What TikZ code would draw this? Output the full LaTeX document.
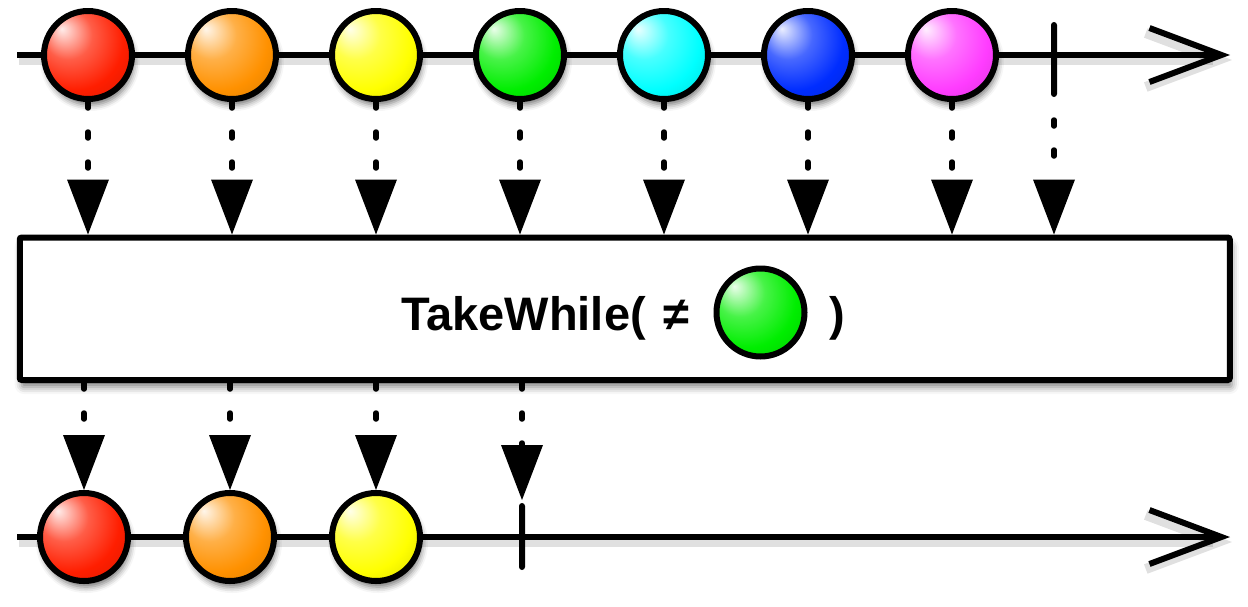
\documentclass[tikz,border=0pt]{standalone}
\usepackage{fontspec}
\setmainfont{Liberation Sans}
\usetikzlibrary{arrows.meta}
\usetikzlibrary{shadows.blur}

\definecolor{ballred}{RGB}{255,30,0}
\definecolor{ballorange}{RGB}{255,145,0}
\definecolor{ballyellow}{RGB}{255,255,0}
\definecolor{ballgreen}{RGB}{0,238,0}
\definecolor{ballcyan}{RGB}{0,255,255}
\definecolor{ballblue}{RGB}{0,45,255}
\definecolor{ballmagenta}{RGB}{255,60,255}
\colorlet{marblecol}{ballred}

\pgfdeclareradialshading[marblecol]{marble}{\pgfpoint{-15bp}{15bp}}{%
  color(0bp)=(marblecol!8!white); color(14bp)=(marblecol!72!white);
  color(28bp)=(marblecol); color(42bp)=(marblecol!85!black);
  color(60bp)=(marblecol!45!black)}

\tikzset{
  marble/.style={circle, draw, line width=6pt, minimum size=88pt, inner sep=0pt,
    shading=marble},
  item/.style={marble, blur shadow={shadow xshift=2pt, shadow yshift=-6pt,
    shadow blur radius=6pt, shadow opacity=55}},
  timeline/.style={line width=6pt, -{Straight Barb[length=72pt,width=54pt,sharp]},
    preaction={draw, black, opacity=0.12, line width=10pt,
    transform canvas={shift={(2pt,-5pt)}}}},
  tickmark/.style={fill=black, inner sep=0pt, outer sep=0pt, minimum width=6pt,
    minimum height=#1, rounded corners=3pt},
  flow/.style={line width=5.5pt, dash pattern=on 6pt off 24pt, line cap=round,
    -{Triangle[width=42pt,length=55pt,line width=0pt]}},
  opbox/.style={draw, fill=white, line width=6pt, rounded corners=2pt,
    minimum width=1210pt, minimum height=142.5pt, inner sep=0pt,
    blur shadow={shadow xshift=2pt, shadow yshift=-7pt, shadow blur radius=7pt,
    shadow opacity=50}},
  optext/.style={font=\bfseries\fontsize{47}{56}\selectfont, inner sep=0pt}
}

\begin{document}
\begin{tikzpicture}[x=1pt, y=-1pt]
  \useasboundingbox (0,0) rectangle (1248,606);

  % source timeline
  \coordinate (srcstart) at (17,55);
  \coordinate (srcstop) at (1230,55);
  \draw[timeline] (srcstart) -- (srcstop);
  \node[tickmark=75pt] (srcend) at (1054,59.5) {};

  % result timeline
  \coordinate (resstart) at (17,537);
  \coordinate (resstop) at (1230,537);
  \draw[timeline] (resstart) -- (resstop);
  \node[tickmark=67pt] (resend) at (522,536.5) {};

  % operator
  \node[opbox] (op) at (624.75,308.75) {};
  \node[optext, anchor=base west] (oplabel) at (401,330) {TakeWhile( \kern5pt≠};
  \colorlet{marblecol}{ballgreen}
  \node[marble] (opball) at (760.5,312.5) {};
  \node[optext, anchor=base west] (opclose) at (829,330) {)};

  % source items
  \foreach \col [count=\i] in {ballred,ballorange,ballyellow,ballgreen,ballcyan,ballblue,ballmagenta}{
    \colorlet{marblecol}{\col}
    \node[item] (s\i) at ({88+144*(\i-1)},55) {};
  }
  \foreach \i in {1,...,7}
    \draw[flow] (s\i.south) -- (s\i.south |- op.north);
  \draw[flow, dash phase=7pt] (srcend.south) -- (srcend.south |- op.north);

  % result items
  \foreach \col/\x [count=\i] in {ballred/84,ballorange/230,ballyellow/376}{
    \colorlet{marblecol}{\col}
    \node[item] (r\i) at (\x,537) {};
  }
  \foreach \i in {1,2,3}
    \draw[flow] (op.south -| r\i.north) -- (r\i.north);
  \draw[flow, shorten >=3pt] (op.south -| resend.north) -- (resend.north);
\end{tikzpicture}
\end{document}
